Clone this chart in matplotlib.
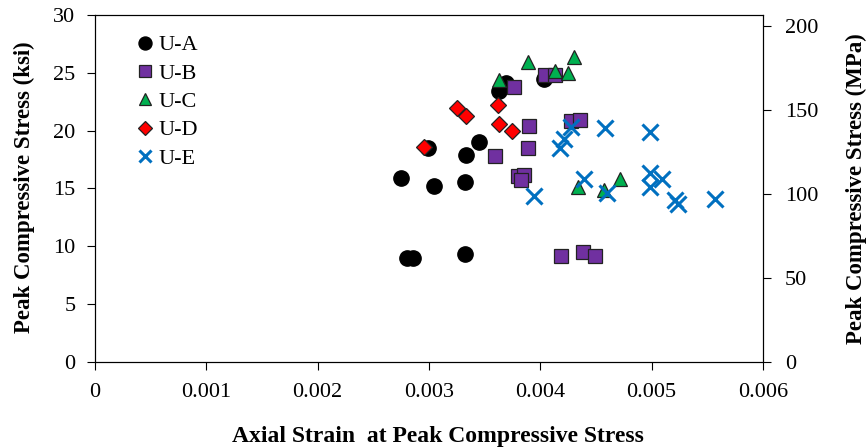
import matplotlib
matplotlib.use("Agg")
import matplotlib.pyplot as plt

plt.rcParams["font.family"] = ["Liberation Serif", "DejaVu Serif"]

# strain / stress (ksi)
ua_x = [0.00275, 0.00305, 0.00332, 0.00333, 0.00345, 0.00299, 0.00363, 0.00369, 0.00403,
        0.00280, 0.00286, 0.00332]
ua_y = [15.9, 15.2, 15.6, 17.9, 19.0, 18.5, 23.4, 24.1, 24.5, 9.0, 9.0, 9.3]

ub_x = [0.00376, 0.00404, 0.00413, 0.00390, 0.00428, 0.00436, 0.00389, 0.00359, 0.00380,
        0.00385, 0.00383, 0.00419, 0.00438, 0.00449]
ub_y = [23.8, 24.8, 24.8, 20.4, 20.8, 20.9, 18.5, 17.8, 16.1, 16.2, 15.7, 9.2, 9.5, 9.2]

uc_x = [0.00363, 0.00389, 0.00413, 0.00425, 0.00430, 0.00434, 0.00457, 0.00472]
uc_y = [24.4, 25.9, 25.2, 25.0, 26.4, 15.1, 14.9, 15.8]

ud_x = [0.00325, 0.00333, 0.00362, 0.00363, 0.00375, 0.00296]
ud_y = [22.0, 21.3, 22.2, 20.6, 20.0, 18.6]

ue_x = [0.00394, 0.00418, 0.00421, 0.00428, 0.00458, 0.00439, 0.00460, 0.00499, 0.00499,
        0.00509, 0.00499, 0.00521, 0.00524, 0.00557]
ue_y = [14.35, 18.5, 19.3, 20.3, 20.2, 15.8, 14.6, 19.9, 16.3, 15.8, 15.15, 14.0, 13.7, 14.05]

KSI_TO_MPA = 6.895

fig = plt.figure(figsize=(8.68, 4.48), dpi=100)
ax = fig.add_axes([0.1094, 0.192, 0.7695, 0.7745])

ax.plot(ua_x, ua_y, "o", color="black", markersize=11, label="U-A")
ax.plot(ub_x, ub_y, "s", color="#7030A0", mec="#222222", mew=0.9, markersize=10.5, label="U-B")
ax.plot(uc_x, uc_y, "^", color="#00B050", mec="#222222", mew=0.9, markersize=10.5, label="U-C")
ax.plot(ud_x, ud_y, "D", color="#FF0000", mec="#222222", mew=0.9, markersize=8, label="U-D")
ax.plot(ue_x, ue_y, "x", color="#0070C0", mew=2.2, markersize=11, label="U-E")

ax.set_xlim(0, 0.006)
ax.set_ylim(0, 30)
ax.set_xticks([0, 0.001, 0.002, 0.003, 0.004, 0.005, 0.006])
ax.set_xticklabels(["0", "0.001", "0.002", "0.003", "0.004", "0.005", "0.006"])
ax.set_yticks(range(0, 31, 5))
ax.tick_params(axis="both", direction="out", length=6, labelsize=16)
ax.tick_params(axis="x", pad=9)
ax.tick_params(axis="y", pad=8)
ax.set_xlabel("Axial Strain  at Peak Compressive Stress", fontsize=17, fontweight="bold")
ax.xaxis.set_label_coords(0.513, -0.185)
ax.set_ylabel("Peak Compressive Stress (ksi)", fontsize=16.5, fontweight="bold")
ax.yaxis.set_label_coords(-0.09, 0.505)

ax2 = ax.twinx()
ax2.set_ylim(0, 30 * KSI_TO_MPA)
ax2.set_yticks(range(0, 201, 50))
ax2.tick_params(axis="y", direction="out", length=6, labelsize=16, pad=10)
ax2.set_ylabel("Peak Compressive Stress (MPa)", fontsize=16.5, fontweight="bold")
ax2.yaxis.set_label_coords(1.124, 0.5)

ax.legend(loc="upper left", bbox_to_anchor=(0.059, 0.943), frameon=False, fontsize=16,
          handletextpad=0.1, labelspacing=0.35, handlelength=1.0, markerscale=0.85,
          borderaxespad=0, borderpad=0)

fig.savefig("out.png", dpi=100)
